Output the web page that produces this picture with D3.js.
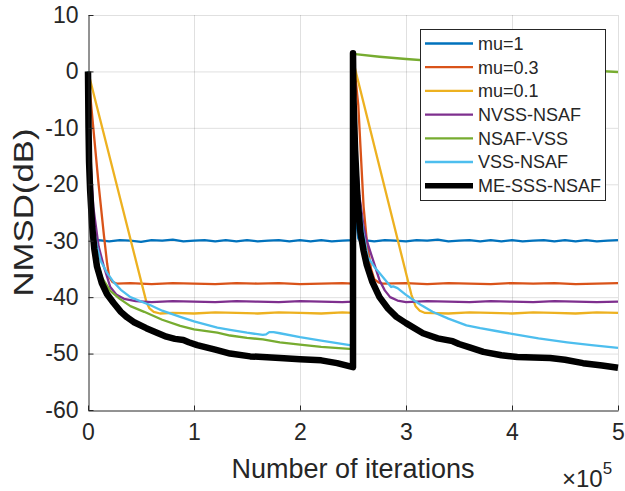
<!DOCTYPE html>
<html>
<head>
<meta charset="utf-8">
<script src="https://cdn.jsdelivr.net/npm/d3@7"></script>
<style>
  body { margin: 0; background: #fff; }
  text { font-family: 'Liberation Sans', Arial, Helvetica, sans-serif; fill: #262626; }
</style>
</head>
<body>
<div id="chart"></div>
<script>
// x in units of 1e5 iterations, y in dB
const xTicks = [0, 1, 2, 3, 4, 5]
const yTicks = [-60, -50, -40, -30, -20, -10, 0, 10]
const seriesNames = ['mu=1', 'mu=0.3', 'mu=0.1', 'NVSS-NSAF', 'NSAF-VSS', 'VSS-NSAF', 'ME-SSS-NSAF']

const mu1 = [
    [0, 0], [0.01, -12], [0.02, -20], [0.03, -25], [0.04, -28], [0.05, -29.6], [0.07, -30.1],
    [0.1, -29.9], [0.2, -30.1], [0.3, -29.9], [0.4, -30.0], [0.5, -30.2], [0.6, -29.9], [0.7, -30.0],
    [0.8, -29.8], [0.9, -30.1], [1.0, -30.0], [1.1, -29.9], [1.2, -30.1], [1.3, -29.9], [1.4, -30.1],
    [1.5, -29.9], [1.6, -30.1], [1.7, -30.0], [1.8, -29.9], [1.9, -30.1], [2.0, -29.9], [2.1, -30.1],
    [2.2, -29.9], [2.3, -30.1], [2.4, -30.0], [2.5, -29.9],
    [2.5, 3.1], [2.51, -10], [2.52, -19], [2.53, -25], [2.54, -28], [2.55, -29.6], [2.57, -30.1],
    [2.6, -29.9], [2.7, -30.1], [2.8, -29.9], [2.9, -30.0], [3.0, -30.1], [3.1, -29.9], [3.2, -30.0],
    [3.3, -29.8], [3.4, -30.1], [3.5, -30.0], [3.6, -29.9], [3.7, -30.1], [3.8, -29.9], [3.9, -30.1],
    [4.0, -29.9], [4.1, -30.1], [4.2, -30.0], [4.3, -29.9], [4.4, -30.1], [4.5, -29.9], [4.6, -30.1],
    [4.7, -29.9], [4.8, -30.1], [4.9, -30.0], [5.0, -29.9]
]

const mu03 = [
    [0, 0], [0.05, -10], [0.1, -20], [0.15, -29], [0.18, -34], [0.2, -36.4], [0.23, -37.3], [0.27, -37.6],
    [0.4, -37.5], [0.6, -37.7], [0.8, -37.5], [1.0, -37.6], [1.2, -37.7], [1.4, -37.5], [1.6, -37.6],
    [1.8, -37.5], [2.0, -37.7], [2.2, -37.6], [2.4, -37.5], [2.5, -37.6],
    [2.5, 3.1], [2.55, -6], [2.6, -24], [2.63, -30], [2.67, -35], [2.7, -36.8], [2.74, -37.4], [2.78, -37.6],
    [3.0, -37.5], [3.2, -37.7], [3.4, -37.5], [3.6, -37.6], [3.8, -37.7], [4.0, -37.5], [4.2, -37.6],
    [4.4, -37.5], [4.6, -37.7], [4.8, -37.6], [5.0, -37.5]
]

const mu01 = [
    [0, 0], [0.55, -40.8], [0.58, -42], [0.62, -42.6], [0.68, -42.9], [0.8, -42.8], [1.0, -42.9],
    [1.2, -42.7], [1.4, -42.8], [1.6, -42.9], [1.8, -42.7], [2.0, -42.8], [2.2, -42.9], [2.4, -42.7], [2.5, -42.8],
    [2.5, 3.1], [2.51, 1.2], [3.05, -39.5], [3.09, -41.6], [3.13, -42.4], [3.18, -42.8], [3.4, -42.9],
    [3.6, -42.7], [3.8, -42.8], [4.0, -42.9], [4.2, -42.7], [4.4, -42.8], [4.6, -42.9], [4.8, -42.7], [5.0, -42.8]
]

const nvss = [
    [0, 0], [0.02, -15], [0.05, -24], [0.1, -31], [0.15, -34.6], [0.21, -38.2], [0.27, -39.6], [0.34, -40.3],
    [0.45, -40.7], [0.6, -40.9], [0.8, -40.7], [1.0, -40.8], [1.2, -40.9], [1.4, -40.7], [1.6, -40.8],
    [1.8, -40.9], [2.0, -40.7], [2.2, -40.8], [2.4, -40.9], [2.5, -40.8],
    [2.5, 3.1], [2.52, -12], [2.56, -22], [2.6, -27.5], [2.63, -30], [2.69, -33.5], [2.75, -37], [2.8, -38.8],
    [2.85, -40], [2.92, -40.6], [3.0, -40.9], [3.2, -40.7], [3.4, -40.8], [3.6, -40.9], [3.8, -40.7],
    [4.0, -40.8], [4.2, -40.9], [4.4, -40.7], [4.6, -40.8], [4.8, -40.9], [5.0, -40.8]
]

const nsafVss = [
    [0, 0], [0.01, -10], [0.02, -18], [0.04, -26], [0.06, -30.5], [0.085, -33.4], [0.13, -36.5],
    [0.21, -38.9], [0.3, -40.3], [0.4, -41.6], [0.53, -42.6], [0.7, -44], [0.87, -45.1], [1.0, -45.7],
    [1.22, -46.3], [1.34, -46.8], [1.5, -47.2], [1.65, -47.5], [1.81, -48], [2.0, -48.4], [2.2, -48.8], [2.5, -49.2],
    [2.5, 3.1], [2.75, 2.6], [3.0, 2.2], [3.5, 1.5], [4.0, 0.95], [4.5, 0.4], [5.0, -0.1]
]

const vssNsaf = [
    [0, 0], [0.01, -10], [0.02, -17], [0.04, -24], [0.06, -28.5], [0.085, -31], [0.12, -33.6], [0.18, -35.7],
    [0.24, -37.3], [0.31, -38.7], [0.4, -40], [0.53, -41], [0.585, -41.4], [0.7, -42.4], [0.87, -43.5],
    [1.0, -44.3], [1.22, -45.4], [1.34, -45.8], [1.5, -46.3], [1.65, -46.7], [1.68, -46.6], [1.71, -46.2],
    [1.75, -46.2], [1.81, -46.4], [2.0, -47.1], [2.2, -47.7], [2.47, -48.5], [2.5, -48.6],
    [2.5, 3.1], [2.52, -12], [2.56, -23], [2.6, -29], [2.64, -32.9], [2.7, -34.6], [2.75, -35.7], [2.82, -37.3],
    [2.86, -38.2], [2.88, -38.1], [2.92, -38.4], [3.0, -39.6], [3.07, -40.5], [3.15, -41.5], [3.25, -42.6],
    [3.4, -43.8], [3.57, -45], [3.7, -45.5], [3.85, -46], [4.0, -46.5], [4.25, -47.3], [4.52, -48],
    [4.75, -48.5], [5.0, -49]
]

const meSss = [
    [0, 0], [0.005, -10], [0.01, -16], [0.02, -21], [0.04, -27.6], [0.06, -31.5], [0.085, -34.6], [0.13, -37.5],
    [0.18, -39.5], [0.24, -41], [0.31, -42.6], [0.37, -43.6], [0.43, -44.4], [0.55, -45.5], [0.65, -46.3],
    [0.74, -47], [0.82, -47.4], [0.9, -47.6], [0.95, -48], [1.03, -48.5], [1.2, -49.3], [1.34, -50],
    [1.53, -50.5], [1.81, -50.8], [2.0, -51], [2.2, -51.2], [2.35, -51.7], [2.5, -52.4],
    [2.5, 3.2], [2.505, -5], [2.52, -14], [2.54, -22], [2.57, -28.5], [2.6, -31.8], [2.63, -34.3], [2.68, -37.2],
    [2.75, -40], [2.83, -42], [2.91, -43.5], [3.0, -44.6], [3.16, -46.4], [3.3, -47.3], [3.44, -47.8],
    [3.5, -48.3], [3.6, -48.9], [3.73, -49.7], [3.9, -50.3], [4.05, -50.6], [4.36, -50.8], [4.5, -51.1],
    [4.67, -51.7], [4.85, -52.1], [5.0, -52.5]
]

const allSeries = [mu1, mu03, mu01, nvss, nsafVss, vssNsaf, meSss]
const colors = ['#0072BD', '#D95319', '#EDB120', '#7E2F8E', '#77AC30', '#4DBEEE', '#000000']
const widths = [2.3, 2.3, 2.3, 2.3, 2.3, 2.3, 6.5]

const W = 625, H = 491
const margin = { top: 15, right: 7, bottom: 81, left: 88 }

const svg = d3.select('#chart').append('svg')
    .attr('width', W)
    .attr('height', H)

const x = d3.scaleLinear().domain([0, 5]).range([margin.left, W - margin.right])
const y = d3.scaleLinear().domain([-60, 10]).range([H - margin.bottom, margin.top])

// grid
const grid = svg.append('g').attr('stroke', 'rgba(38,38,38,0.14)').attr('stroke-width', 1)
grid.selectAll('.gx').data(xTicks.slice(1)).enter().append('line')
    .attr('x1', d => x(d) + 0.5).attr('x2', d => x(d) + 0.5)
    .attr('y1', y(-60)).attr('y2', y(10))
grid.selectAll('.gy').data(yTicks.slice(1)).enter().append('line')
    .attr('x1', x(0)).attr('x2', x(5))
    .attr('y1', d => y(d) + 0.5).attr('y2', d => y(d) + 0.5)

// lines
const line = d3.line().x(d => x(d[0])).y(d => y(d[1]))
svg.append('g').selectAll('path')
    .data(allSeries).enter()
    .append('path')
    .attr('fill', 'none')
    .attr('stroke', (d, i) => colors[i])
    .attr('stroke-width', (d, i) => widths[i])
    .attr('stroke-linejoin', 'round')
    .attr('d', line)

// axes
const xAxis = svg.append('g')
    .attr('transform', `translate(0, ${y(-60) + 0.5})`)
    .call(d3.axisBottom(x).tickValues(xTicks).tickSize(-5).tickSizeOuter(0).tickPadding(13).tickFormat(d3.format('d')))
const yAxis = svg.append('g')
    .attr('transform', `translate(${x(0) + 0.5}, 0)`)
    .call(d3.axisLeft(y).tickValues(yTicks).tickSize(-5).tickSizeOuter(0).tickPadding(10).tickFormat(d => d < 0 ? '-' + Math.abs(d) : d))

;[xAxis, yAxis].forEach(a => {
    a.select('.domain').attr('stroke', '#262626')
    a.selectAll('.tick line').attr('stroke', '#262626')
    a.selectAll('.tick text')
        .attr('fill', '#262626')
        .style('font-size', '23px')
        .style('font-family', "'Liberation Sans', Arial, sans-serif")
})

// labels
svg.append('text')
    .attr('x', (x(0) + x(5)) / 2)
    .attr('y', 478)
    .attr('text-anchor', 'middle')
    .style('font-size', '27px')
    .text('Number of iterations')

svg.append('text')
    .attr('transform', `translate(33, ${(y(-60) + y(10)) / 2}) rotate(-90)`)
    .attr('text-anchor', 'middle')
    .attr('textLength', 168)
    .attr('lengthAdjust', 'spacingAndGlyphs')
    .style('font-size', '28px')
    .text('NMSD(dB)')

const expo = svg.append('text')
    .attr('x', 562)
    .attr('y', 487)
    .style('font-size', '24px')
expo.append('tspan').text('\u00d710')
expo.append('tspan').attr('dy', -13).style('font-size', '17px').text('5')

// legend
const lg = svg.append('g')
lg.append('rect')
    .attr('x', 420.5).attr('y', 29.5)
    .attr('width', 185).attr('height', 171)
    .attr('fill', '#fff')
    .attr('stroke', '#262626')
    .attr('stroke-width', 1)

const rows = lg.selectAll('.row').data(seriesNames).enter().append('g')
    .attr('transform', (d, i) => `translate(0, ${43.5 + i * 23.7})`)
rows.append('line')
    .attr('x1', 425).attr('x2', 473)
    .attr('stroke', (d, i) => colors[i])
    .attr('stroke-width', (d, i) => i === 6 ? 5.5 : 2.3)
rows.append('text')
    .attr('x', 478)
    .attr('dy', '0.35em')
    .style('font-size', '18px')
    .text(d => d)
</script>
</body>
</html>
